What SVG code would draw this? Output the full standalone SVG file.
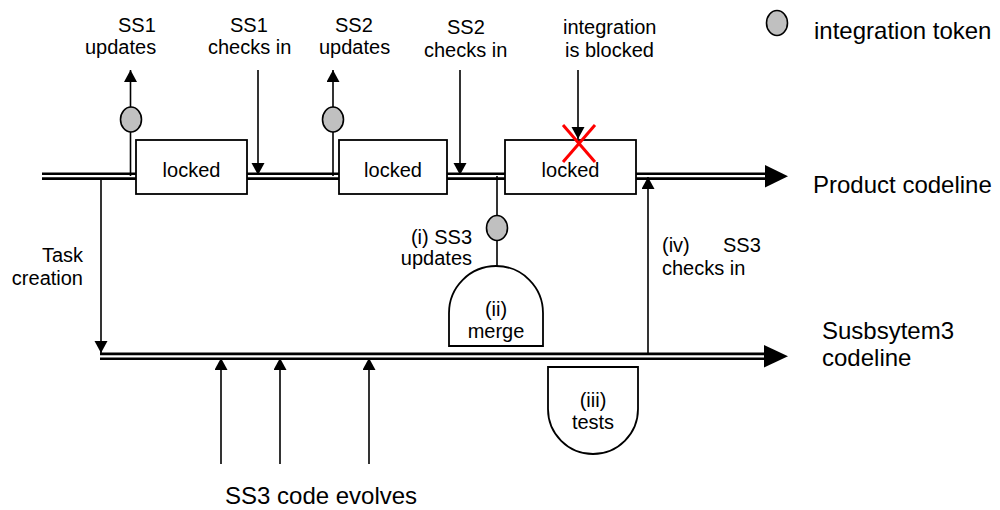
<svg xmlns="http://www.w3.org/2000/svg" width="1000" height="510" viewBox="0 0 1000 510">
<style>
text{font-family:"Liberation Sans",Arial,sans-serif;fill:#000}
.s{font-size:20px}
.b{font-size:24px}
.c{text-anchor:middle}
.e{text-anchor:end}
.ln{stroke:#000;stroke-width:1.6;fill:none}
.box{fill:#fff;stroke:#000;stroke-width:1.8}
.tok{fill:#c0c0c0;stroke:#000;stroke-width:1.6}
.cl{stroke:#000;stroke-width:7.6;fill:none}
.clw{stroke:#fff;stroke-width:2.3;fill:none}
</style>
<defs>
<marker id="ah" markerUnits="userSpaceOnUse" markerWidth="13" markerHeight="14" refX="12" refY="6.5" orient="auto">
<path d="M0,0 L12,6.5 L0,13 Z" fill="#000"/>
</marker>
</defs>
<rect width="1000" height="510" fill="#fff"/>
<g id="codelines">
<line class="cl" x1="42" y1="176.2" x2="767" y2="176.2"/>
<line class="clw" x1="42" y1="176.2" x2="767" y2="176.2"/>
<polygon points="765,165 788,176.2 765,187.4" fill="#000"/>
<line class="cl" x1="100" y1="356.3" x2="767" y2="356.3"/>
<line class="clw" x1="100" y1="356.3" x2="767" y2="356.3"/>
<polygon points="764,345 788,356.3 764,367.6" fill="#000"/>
</g>
<g id="connectors">
<line class="ln" x1="130.5" y1="176" x2="130.5" y2="70" marker-end="url(#ah)"/>
<line class="ln" x1="258" y1="70" x2="258" y2="175" marker-end="url(#ah)"/>
<line class="ln" x1="333" y1="176" x2="333" y2="70" marker-end="url(#ah)"/>
<line class="ln" x1="460" y1="70" x2="460" y2="175" marker-end="url(#ah)"/>
<line class="ln" x1="578" y1="70" x2="578" y2="139" marker-end="url(#ah)"/>
<line class="ln" x1="497" y1="176" x2="497" y2="280" marker-end="url(#ah)"/>
<line class="ln" x1="101" y1="179" x2="101" y2="353" marker-end="url(#ah)"/>
<line class="ln" x1="648" y1="353" x2="648" y2="177" marker-end="url(#ah)"/>
<line class="ln" x1="221" y1="464" x2="221" y2="358" marker-end="url(#ah)"/>
<line class="ln" x1="280" y1="464" x2="280" y2="358" marker-end="url(#ah)"/>
<line class="ln" x1="369" y1="464" x2="369" y2="358" marker-end="url(#ah)"/>
</g>
<g id="locked1">
<rect class="box" x="136" y="140" width="111" height="54"/>
<text class="s c" x="191.5" y="176.5">locked</text>
</g>
<g id="locked2">
<rect class="box" x="339" y="140" width="108" height="54"/>
<text class="s c" x="393" y="176.5">locked</text>
</g>
<g id="locked3">
<rect class="box" x="505" y="140" width="131" height="54"/>
<text class="s c" x="570.5" y="176.5">locked</text>
</g>
<g id="blocked-x">
<line x1="563" y1="125" x2="595" y2="162" stroke="#ff0000" stroke-width="3"/>
<line x1="595" y1="125" x2="563" y2="162" stroke="#ff0000" stroke-width="3"/>
</g>
<g id="tokens">
<ellipse class="tok" cx="131" cy="119.5" rx="10.5" ry="12.5"/>
<ellipse class="tok" cx="333" cy="119.5" rx="10.5" ry="12.5"/>
<ellipse class="tok" cx="497" cy="228" rx="10.5" ry="12.5"/>
</g>
<g id="merge">
<path class="box" d="M449,346 V313 A47,47 0 0 1 543,313 V346 Z"/>
<text class="s c" x="496" y="316">(ii)</text>
<text class="s c" x="496" y="338">merge</text>
</g>
<g id="tests">
<path class="box" d="M548,367 H638 V409 A45,45 0 0 1 548,409 Z"/>
<text class="s c" x="593" y="407">(iii)</text>
<text class="s c" x="593" y="429">tests</text>
</g>
<g id="legend">
<ellipse class="tok" cx="777" cy="23" rx="10.5" ry="12.5"/>
<text class="b" x="814" y="39">integration token</text>
</g>
<g id="labels">
<text class="s" x="118" y="32">SS1</text>
<text class="s" x="85" y="54">updates</text>
<text class="s" x="230" y="32">SS1</text>
<text class="s" x="208" y="54">checks in</text>
<text class="s" x="335" y="32">SS2</text>
<text class="s" x="319" y="54">updates</text>
<text class="s" x="447" y="34">SS2</text>
<text class="s" x="424" y="56.5">checks in</text>
<text class="s" x="563" y="34">integration</text>
<text class="s" x="565" y="57">is blocked</text>
<text class="s e" x="83" y="262">Task</text>
<text class="s e" x="83" y="285">creation</text>
<text class="s e" x="472" y="244">(i) SS3</text>
<text class="s e" x="472" y="265">updates</text>
<text class="s" x="662" y="252"><tspan x="662">(iv)</tspan><tspan x="723">SS3</tspan></text>
<text class="s" x="662" y="275">checks in</text>
<text class="b" x="813" y="193">Product codeline</text>
<text class="b" x="822" y="339">Susbsytem3</text>
<text class="b" x="822" y="366">codeline</text>
<text class="b" x="225" y="504">SS3 code evolves</text>
</g>
</svg>
